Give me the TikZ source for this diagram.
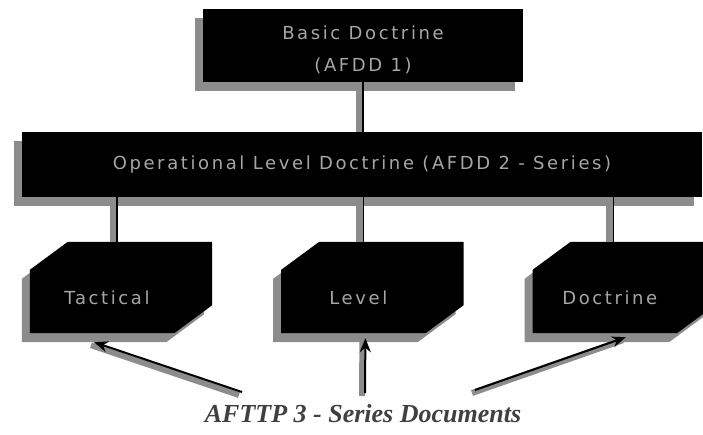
\documentclass[tikz,border=0pt]{standalone}
\usepackage{fontspec}
\newfontfamily\boxfont[LetterSpace=14.5]{DejaVu Sans}
\newfontfamily\capfont{Liberation Serif}
\usetikzlibrary{positioning,shadows,arrows.meta,backgrounds}
\tikzset{boxtext/.style={text=black!35,align=center,font=\boxfont\fontsize{18}{32}\selectfont},
	 darkbox/.style={rectangle,fill=black,inner sep=0pt,
	   drop shadow={shadow xshift=-8pt,shadow yshift=-9pt,fill=black!45,opacity=1}},
	 docbox/.style={rectangle,inner sep=0pt,minimum width=182pt,minimum height=91pt,
	   label={[boxtext,xshift=-14pt,yshift=-10pt]center:#1}},
	 link/.style={line width=1.2pt,preaction={draw=black!45,line width=7pt,transform canvas={xshift=-4pt}}},
	 pointer/.style={line width=2pt,-{Stealth[length=14pt,width=11pt]},
	   preaction={draw=black!45,line width=6pt,arrows=-,transform canvas={xshift=-3pt,yshift=-3pt}}},
	 node distance = 69pt
	 }
\newcommand{\chamfer}[1]{([xshift=38pt]#1.north west) -- (#1.north east) -- ([yshift=28pt]#1.south east)
	-- ([xshift=-38pt]#1.south east) -- (#1.south west) -- ([yshift=-28pt]#1.north west) -- cycle}
\begin{document}
\begin{tikzpicture}[x=1pt,y=-1pt] % AFDD hierarchy
	\useasboundingbox (0,0) rectangle (703,434);
	\node[darkbox,minimum width=320pt,minimum height=73pt] (basic) at (363,45.5)
	  [label={[boxtext,yshift=-4pt]center:{Basic Doctrine\\(AFDD 1)}}] {};
	\node[darkbox,minimum width=680pt,minimum height=65pt] (oper) at (362,164.5)
	  [label={[boxtext]center:Operational Level Doctrine (AFDD 2 - Series)}] {};
	\node[docbox=Tactical] (tact) at (121,287.5) {};
	\node[docbox=Level] (levl) [right= of tact] {};
	\node[docbox=Doctrine] (doct) [right= of levl] {};
	\begin{scope}[on background layer]
	  \foreach \doc in {tact,levl,doct} {
	    \fill[black!45,transform canvas={xshift=-8pt,yshift=-9pt}] \chamfer{\doc};
	    \fill[black] \chamfer{\doc};
	  }
	\end{scope}
	\draw[link] (basic.south) to (basic.south |- oper.north);
	\foreach \doc/\dx in {tact/-4,levl/-9,doct/-10}
	  \draw[link] ([xshift=\dx pt]\doc.north |- oper.south) to ([xshift=\dx pt]\doc.north);
	\node[font=\capfont\bfseries\itshape\fontsize{26}{28}\selectfont,text=black!75] (series) at (363,414) {AFTTP 3 - Series Documents};
	\coordinate (ta) at (242,392);
	\coordinate (la) at (365,393);
	\coordinate (da) at (475,390);
	\draw[pointer] (ta) to ([xshift=-27pt,yshift=-9pt]tact.south);
	\draw[pointer] (la) to ([xshift=-7pt,yshift=-5pt]levl.south);
	\draw[pointer] (da) to ([xshift=2pt,yshift=-4pt]doct.south);
\end{tikzpicture}
\end{document}
